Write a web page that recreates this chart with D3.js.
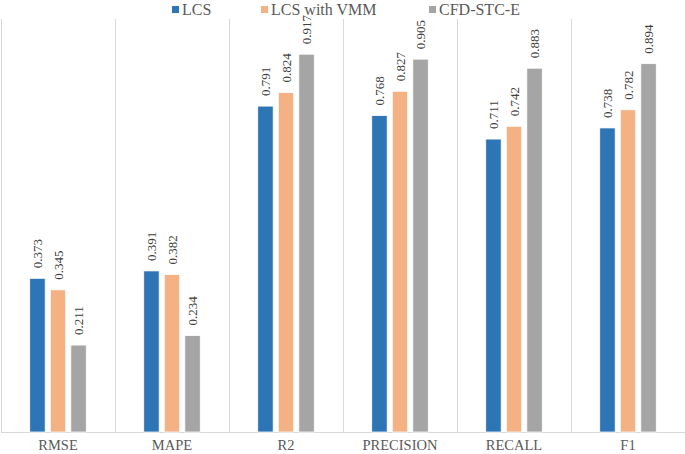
<!DOCTYPE html>
<html>
<head>
<meta charset="utf-8">
<script src="https://cdn.jsdelivr.net/npm/d3@7"></script>
<style>
  body { margin: 0; background: #fff; }
</style>
</head>
<body>
<div id="chart"></div>
<script>
// data
var categories = ["RMSE", "MAPE", "R2", "PRECISION", "RECALL", "F1"];
var series = ["LCS", "LCS with VMM", "CFD-STC-E"];
var lcs = [0.373, 0.391, 0.791, 0.768, 0.711, 0.738];
var lcsVmm = [0.345, 0.382, 0.824, 0.827, 0.742, 0.782];
var cfd = [0.211, 0.234, 0.917, 0.905, 0.883, 0.894];
var colors = ["#2E75B6", "#F4B183", "#A5A5A5"];

var values = [lcs, lcsVmm, cfd];

var width = 685, height = 454;
var margin = { top: 19, right: 0, bottom: 22, left: 1 };
var serif = "'Liberation Serif', 'DejaVu Serif', 'Times New Roman', serif";

var svg = d3.select("#chart")
    .append("svg")
    .attr("width", width)
    .attr("height", height)
    .attr("font-family", serif);

// X scales
var x0 = d3.scaleBand()
    .domain(categories)
    .range([margin.left, width - margin.right]);

var x1 = d3.scaleBand()
    .domain(series)
    .range([0, x0.bandwidth()])
    .paddingInner(0.25)
    .paddingOuter(1.4);

// Y scale
var y = d3.scaleLinear()
    .domain([0, 1])
    .range([432, 20]);

// vertical separators between categories
var seps = categories.map(function (c) { return x0(c); }).concat([x0.range()[1] - 0.5]);
svg.selectAll("line.sep")
    .data(seps)
    .enter()
    .append("line")
    .attr("class", "sep")
    .attr("x1", function (d) { return Math.round(d) + 0.5; })
    .attr("x2", function (d) { return Math.round(d) + 0.5; })
    .attr("y1", margin.top)
    .attr("y2", y(0))
    .attr("stroke", "#D9D9D9")
    .attr("stroke-width", 1);

// baseline
svg.append("line")
    .attr("x1", margin.left)
    .attr("x2", width)
    .attr("y1", y(0) + 0.5)
    .attr("y2", y(0) + 0.5)
    .attr("stroke", "#D9D9D9");

// bars
var rows = [];
categories.forEach(function (c, i) {
    series.forEach(function (s, j) {
        rows.push({ cat: c, ser: s, idx: j, value: values[j][i] });
    });
});

var g = svg.append("g");
g.selectAll("rect")
    .data(rows)
    .enter()
    .append("rect")
    .attr("x", function (d) { return x0(d.cat) + x1(d.ser); })
    .attr("y", function (d) { return y(d.value); })
    .attr("width", x1.bandwidth())
    .attr("height", function (d) { return y(0) - y(d.value); })
    .attr("fill", function (d) { return colors[d.idx]; })
    .attr("stroke", "#fff")
    .attr("stroke-width", 0.75);

// value labels, rotated
g.selectAll("text.val")
    .data(rows)
    .enter()
    .append("text")
    .attr("class", "val")
    .attr("transform", function (d) {
        var cx = x0(d.cat) + x1(d.ser) + x1.bandwidth() / 2;
        return "translate(" + cx + "," + (y(d.value) - 10) + ") rotate(-90)";
    })
    .attr("dy", "0.35em")
    .attr("text-anchor", "start")
    .attr("font-family", serif)
    .style("font-size", "13px")
    .style("fill", "#404040")
    .text(function (d) { return d.value.toFixed(3); });

// category labels
svg.selectAll("text.cat")
    .data(categories)
    .enter()
    .append("text")
    .attr("class", "cat")
    .attr("x", function (d) { return x0(d) + x0.bandwidth() / 2; })
    .attr("y", 450)
    .attr("text-anchor", "middle")
    .attr("font-family", serif)
    .style("font-size", "14.5px")
    .style("fill", "#595959")
    .text(function (d) { return d; });

// legend
var legendX = [172, 261, 429];
var legend = svg.selectAll("g.legend")
    .data(series)
    .enter()
    .append("g")
    .attr("class", "legend")
    .attr("transform", function (d, i) { return "translate(" + legendX[i] + ",0)"; });

legend.append("rect")
    .attr("x", 0)
    .attr("y", 6)
    .attr("width", 7)
    .attr("height", 7)
    .attr("fill", function (d, i) { return colors[i]; });

legend.append("text")
    .attr("x", 10)
    .attr("y", 15)
    .attr("font-family", serif)
    .style("font-size", "16px")
    .style("fill", "#595959")
    .text(function (d) { return d; });
</script>
</body>
</html>
